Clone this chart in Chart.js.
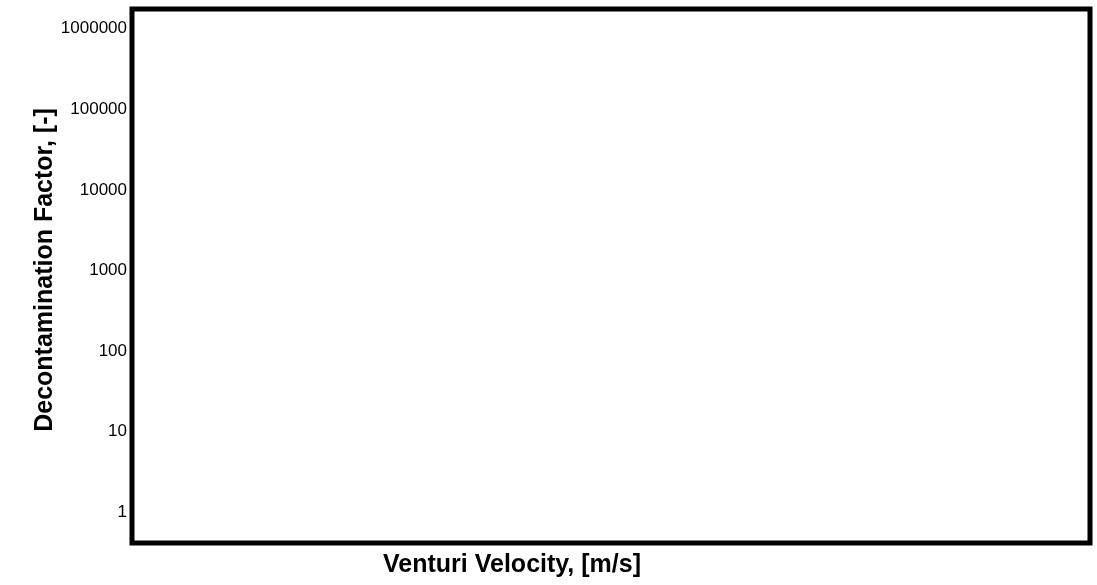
<!DOCTYPE html>
<html>
<head>
<meta charset="utf-8">
<script src="https://cdn.jsdelivr.net/npm/chart.js@4/dist/chart.umd.min.js"></script>
<style>
  html, body { margin: 0; padding: 0; background: #fff; }
  #wrap { width: 1097px; height: 585px; }
</style>
</head>
<body>
<div id="wrap"><canvas id="myChart" width="1097" height="585"></canvas></div>
<script>
// the reference plot has no data marks, only the empty frame and log axis
var velocities = [];
var decontaminationFactors = [];
var yTickValues = [1, 10, 100, 1000, 10000, 100000, 1000000];
var yMin = 0.415;
var yMax = 1760000;
var xTitle = "Venturi Velocity, [m/s]";
var yTitle = "Decontamination Factor, [-]";

var fontFamily = "'Liberation Sans', Arial, sans-serif";

// draws the heavy frame and both axis titles
var framePlugin = {
  id: 'frame',
  afterDraw: function(chart) {
    var ctx = chart.ctx;
    var a = chart.chartArea;
    ctx.save();
    ctx.strokeStyle = '#000';
    ctx.lineWidth = 5;
    ctx.lineJoin = 'miter';
    ctx.strokeRect(a.left, a.top, a.right - a.left, a.bottom - a.top);

    ctx.fillStyle = '#000';
    ctx.font = 'bold 25px ' + fontFamily;
    ctx.textAlign = 'center';
    ctx.textBaseline = 'alphabetic';
    ctx.fillText(xTitle, 512, 572);

    ctx.translate(52, 270);
    ctx.rotate(-Math.PI / 2);
    ctx.fillText(yTitle, 0, 0);
    ctx.restore();
  }
};

var ctx = document.getElementById("myChart").getContext('2d');
var myChart = new Chart(ctx, {
  type: 'scatter',
  data: {
    datasets: [{
      data: velocities.map(function(v, i) { return {x: v, y: decontaminationFactors[i]}; }),
      borderColor: "#000",
      backgroundColor: "#000"
    }]
  },
  options: {
    responsive: false,
    animation: false,
    layout: { padding: { top: 9, right: 7, left: 0, bottom: 0 } },
    plugins: { legend: { display: false }, tooltip: { enabled: false } },
    scales: {
      x: {
        type: 'linear',
        min: 0,
        max: 1,
        grid: { display: false },
        border: { display: false },
        ticks: { display: false },
        afterFit: function(scale) {
          scale.height = 42;
          scale.paddingLeft = 0;
          scale.paddingRight = 0;
        }
      },
      y: {
        type: 'logarithmic',
        min: yMin,
        max: yMax,
        grid: { display: false, drawTicks: false, tickLength: 0 },
        border: { display: false },
        afterFit: function(scale) {
          scale.width = 132;
          scale.paddingTop = 0;
          scale.paddingBottom = 0;
        },
        ticks: {
          autoSkip: false,
          padding: 5,
          color: '#000',
          font: { family: fontFamily, size: 17 },
          callback: function(value) {
            return yTickValues.indexOf(value) >= 0 ? String(value) : '';
          }
        }
      }
    }
  },
  plugins: [framePlugin]
});
</script>
</body>
</html>
